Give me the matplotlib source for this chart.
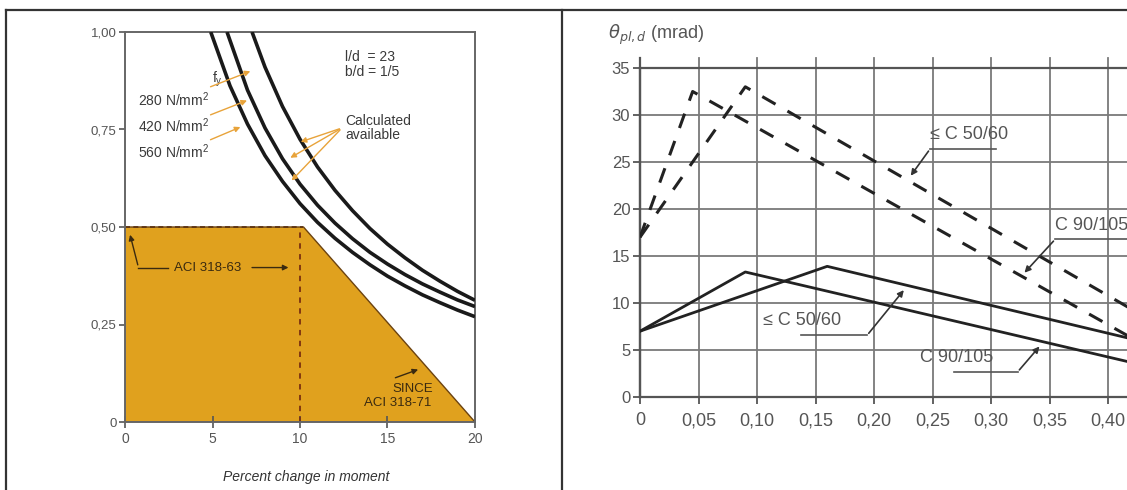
import matplotlib
matplotlib.use("Agg")
import matplotlib.pyplot as plt
from matplotlib.lines import Line2D

plt.rcParams['font.family'] = ['Liberation Sans', 'DejaVu Sans']

# ---- left chart data (percent change in moment vs c/d) ----
curve_280_x = [4.9, 6, 7, 8, 9, 10, 11, 12, 13, 14, 15, 16, 17, 18, 19, 20]
curve_280_y = [1.0, 0.862, 0.764, 0.683, 0.617, 0.560, 0.512, 0.471, 0.435, 0.403, 0.374, 0.349, 0.326, 0.306, 0.287, 0.270]
curve_420_x = [5.83, 7, 8, 9, 10, 11, 12, 13, 14, 15, 16, 17, 18, 19, 20]
curve_420_y = [1.0, 0.851, 0.754, 0.675, 0.610, 0.556, 0.510, 0.470, 0.435, 0.405, 0.378, 0.354, 0.333, 0.313, 0.296]
curve_560_x = [7.26, 8, 9, 10, 11, 12, 13, 14, 15, 16, 17, 18, 19, 20]
curve_560_y = [1.0, 0.910, 0.809, 0.725, 0.654, 0.594, 0.542, 0.496, 0.456, 0.421, 0.389, 0.361, 0.335, 0.312]
aci_x = [0, 0, 10.2, 20]
aci_y = [0, 0.5, 0.5, 0]
left_xticks = [0, 5, 10, 15, 20]
left_yticks = [0, 0.25, 0.5, 0.75, 1.0]
left_yticklabels = ['0', '0,25', '0,50', '0,75', '1,00']

# ---- right chart data (theta_pl,d vs x/d) ----
solid_50_x = [0, 0.16, 0.45]
solid_50_y = [7.0, 13.9, 5.3]
solid_90_x = [0, 0.09, 0.45]
solid_90_y = [7.0, 13.3, 2.8]
dash_50_x = [0, 0.09, 0.45]
dash_50_y = [17.0, 33.0, 7.2]
dash_90_x = [0, 0.045, 0.45]
dash_90_y = [17.0, 32.5, 4.2]
right_xticks = [0, 0.05, 0.10, 0.15, 0.20, 0.25, 0.30, 0.35, 0.40]
right_xticklabels = ['0', '0,05', '0,10', '0,15', '0,20', '0,25', '0,30', '0,35', '0,40']
right_yticks = [0, 5, 10, 15, 20, 25, 30, 35]

W, H = 1127, 490
fig = plt.figure(figsize=(W / 100, H / 100), dpi=100)

# outer frame of the scanned page
for xs, ys in [([6 / W, 1], [1 - 10 / H, 1 - 10 / H]),
               ([6 / W, 6 / W], [0, 1 - 10 / H]),
               ([562 / W, 562 / W], [0, 1 - 10 / H])]:
    fig.add_artist(Line2D(xs, ys, color='#333333', lw=1.6))

# ================= left chart =================
ax1 = fig.add_axes([125 / W, 1 - 422 / H, 350 / W, 390 / H])
ax1.fill(aci_x, aci_y, color='#e0a11e', ec='#6b4210', lw=1.0, zorder=1)
ax1.plot([0, 10.2], [0.5, 0.5], color='#5a3010', lw=1.2, ls=(0, (3, 2)), zorder=2)
ax1.plot([10, 10], [0, 0.5], color='#7a3010', lw=1.3, ls=(0, (3, 3)), zorder=2)
for cx, cy in [(curve_280_x, curve_280_y), (curve_420_x, curve_420_y), (curve_560_x, curve_560_y)]:
    ax1.plot(cx, cy, color='#1a1a1a', lw=2.6, zorder=3, solid_capstyle='butt')

ax1.set_xlim(0, 20)
ax1.set_ylim(0, 1.0)
ax1.set_xticks(left_xticks)
ax1.set_xticklabels([str(t) for t in left_xticks])
ax1.set_yticks(left_yticks)
ax1.set_yticklabels(left_yticklabels)
ax1.tick_params(axis='x', direction='inout', length=8, width=1.2, colors='#555555',
                labelsize=10, labelcolor='#555555', pad=3)
ax1.tick_params(axis='y', direction='out', length=4, width=1.2, colors='#555555',
                labelsize=9.5, labelcolor='#555555', pad=2)
for s in ax1.spines.values():
    s.set_color('#666666')
    s.set_linewidth(1.4)

tc = '#3a3a3a'
ax1.text(12.6, 0.936, 'l/d  = 23', fontsize=10, color=tc, va='center')
ax1.text(12.6, 0.897, 'b/d = 1/5', fontsize=10, color=tc, va='center')
ax1.text(5.0, 0.878, r'f$_\mathregular{y}$', fontsize=10, color=tc, va='center')
ax1.text(0.74, 0.827, r'280 N/mm$^\mathregular{2}$', fontsize=10, color=tc, va='center')
ax1.text(0.74, 0.760, r'420 N/mm$^\mathregular{2}$', fontsize=10, color=tc, va='center')
ax1.text(0.74, 0.694, r'560 N/mm$^\mathregular{2}$', fontsize=10, color=tc, va='center')
orange = '#e8a33a'
for (x0, y0), (x1, y1) in [((4.74, 0.857), (7.31, 0.902)),
                           ((4.74, 0.785), (7.12, 0.827)),
                           ((4.74, 0.721), (6.74, 0.759))]:
    ax1.annotate('', xy=(x1, y1), xytext=(x0, y0),
                 arrowprops=dict(arrowstyle='-|>', color=orange, lw=1.0, mutation_scale=8))
ax1.text(12.6, 0.772, 'Calculated', fontsize=10, color=tc, va='center')
ax1.text(12.6, 0.735, 'available', fontsize=10, color=tc, va='center')
for tip in [(9.89, 0.716), (9.31, 0.674), (9.41, 0.614)]:
    ax1.annotate('', xy=tip, xytext=(12.4, 0.754),
                 arrowprops=dict(arrowstyle='-|>', color=orange, lw=1.0, mutation_scale=8))

ax1.text(4.75, 0.396, 'ACI 318-63', fontsize=9.5, color='#3a2a10', ha='center', va='center')
ax1.annotate('', xy=(9.5, 0.396), xytext=(7.1, 0.396),
             arrowprops=dict(arrowstyle='-|>', color='#3a2a10', lw=1.0, mutation_scale=8))
ax1.plot([2.45, 0.77], [0.396, 0.396], color='#3a2a10', lw=1.0)
ax1.annotate('', xy=(0.25, 0.487), xytext=(0.77, 0.396),
             arrowprops=dict(arrowstyle='-|>', color='#3a2a10', lw=1.0, mutation_scale=8))
ax1.text(17.6, 0.085, 'SINCE', fontsize=9.5, color='#3a2a10', ha='right', va='center')
ax1.text(17.5, 0.050, 'ACI 318-71', fontsize=9.5, color='#3a2a10', ha='right', va='center')
ax1.annotate('', xy=(16.9, 0.137), xytext=(15.3, 0.111),
             arrowprops=dict(arrowstyle='-|>', color='#3a2a10', lw=1.0, mutation_scale=8))

fig.text(306 / W, 1 - 477 / H, 'Percent change in moment', fontsize=10, style='italic',
         color='#333333', ha='center', va='center')

# ================= right chart =================
ax2 = fig.add_axes([640 / W, 1 - 397 / H, 526.5 / W, 329 / H])
ax2.set_xlim(0, 0.45)
ax2.set_ylim(0, 35)
grid_c = '#7a7a7a'
for yv in right_yticks[1:-1]:
    ax2.axhline(yv, color=grid_c, lw=1.3, zorder=1)
for xv in right_xticks[1:] + [0.45]:
    ax2.axvline(xv, ymin=0, ymax=1.03, color=grid_c, lw=1.3, zorder=1, clip_on=False)
ax2.axvline(0, ymin=0, ymax=1.03, color='#555555', lw=1.6, zorder=1, clip_on=False)

line_c = '#222222'
ax2.plot(solid_50_x, solid_50_y, color=line_c, lw=2.0, zorder=3)
ax2.plot(solid_90_x, solid_90_y, color=line_c, lw=2.0, zorder=3)
ax2.plot(dash_50_x, dash_50_y, color=line_c, lw=2.2, ls=(0, (5, 4.5)), zorder=3)
ax2.plot(dash_90_x, dash_90_y, color=line_c, lw=2.2, ls=(0, (5, 4.5)), zorder=3)

ax2.set_xticks(right_xticks)
ax2.set_xticklabels(right_xticklabels)
ax2.set_yticks(right_yticks)
ax2.set_yticklabels([str(t) for t in right_yticks])
ax2.tick_params(axis='both', direction='out', length=5, width=1.3, colors='#555555',
                labelcolor='#555555')
ax2.tick_params(axis='x', labelsize=13, pad=6)
ax2.tick_params(axis='y', labelsize=12, pad=2)
for side in ['left', 'bottom', 'top']:
    ax2.spines[side].set_color('#555555')
    ax2.spines[side].set_linewidth(1.6)
ax2.spines['right'].set_visible(False)

fig.text(608 / W, 1 - 35 / H, r'$\theta_{pl,d}$ (mrad)', fontsize=13, color='#555555',
         ha='left', va='center')

lc = '#555555'
def label(txt, tx, ty, ux0, ux1, uy, tip):
    ax2.text(tx, ty, txt, fontsize=13, color=lc, ha='left', va='center', zorder=4)
    ax2.plot([ux0, ux1], [uy, uy], color=lc, lw=1.2, zorder=4, clip_on=False)
    start = (ux0, uy) if abs(ux0 - tip[0]) < abs(ux1 - tip[0]) else (ux1, uy)
    ax2.annotate('', xy=tip, xytext=start,
                 arrowprops=dict(arrowstyle='-|>', color='#333333', lw=1.2, mutation_scale=9),
                 zorder=4)

label('≤ C 50/60', 0.248, 27.9, 0.248, 0.304, 26.4, (0.230, 23.3))
label('C 90/105', 0.355, 18.2, 0.355, 0.45, 16.8, (0.327, 13.0))
label('≤ C 50/60', 0.105, 8.1, 0.138, 0.194, 6.55, (0.227, 11.6))
label('C 90/105', 0.239, 4.2, 0.2686, 0.3227, 2.66, (0.343, 5.6))

fig.savefig('out.png', dpi=100)
